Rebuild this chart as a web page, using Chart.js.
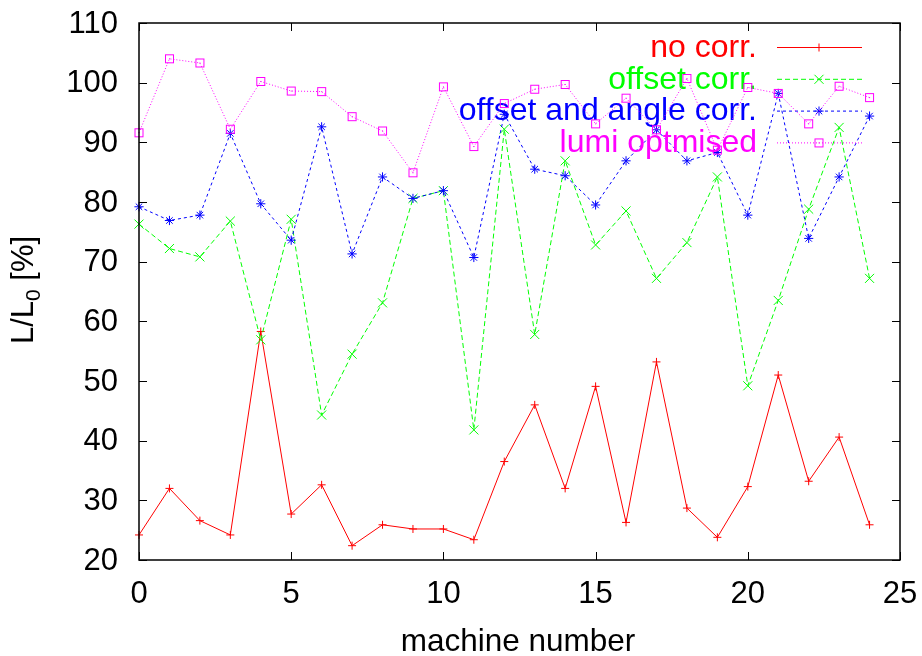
<!DOCTYPE html>
<html>
<head>
<meta charset="utf-8">
<script src="https://cdn.jsdelivr.net/npm/chart.js@4"></script>
<style>
  html, body { margin: 0; padding: 0; background: #fff; }
  canvas { display: block; }
</style>
</head>
<body>
<canvas id="chart" width="922" height="656"></canvas>
<script>
/* --- datos ---------------------------------------------------------------- */
const machines = [0, 1, 2, 3, 4, 5, 6, 7, 8, 9, 10, 11, 12, 13, 14, 15, 16, 17, 18, 19, 20, 21, 22, 23, 24];

const noCorr = [24.2, 32.0, 26.6, 24.2, 58.3, 27.7, 32.6, 22.4, 25.9, 25.2, 25.2, 23.4, 36.5,
    46.0, 32.0, 49.1, 26.3, 53.2, 28.7, 23.8, 32.3, 51.0, 33.2, 40.6, 25.9];

const offsetCorr = [76.3, 72.2, 70.8, 76.8, 56.9, 77.1, 44.3, 54.5, 63.1, 80.6, 81.9, 41.8, 92.2,
    57.8, 86.9, 72.8, 78.5, 67.2, 73.2, 84.2, 49.2, 63.5, 78.8, 92.5, 67.2];

const offsetAngleCorr = [79.2, 76.9, 77.8, 91.5, 79.7, 73.6, 92.6, 71.3, 84.2, 80.6, 81.9, 70.7, 94.7,
    85.5, 84.4, 79.5, 86.9, 92.1, 86.9, 88.3, 77.8, 98.2, 73.9, 84.2, 94.4];

const lumiOpt = [91.6, 104.0, 103.3, 92.2, 100.2, 98.6, 98.5, 94.3, 91.9, 84.9, 99.3, 89.3, 96.5,
    98.9, 99.7, 93.1, 97.4, 92.1, 100.7, 88.7, 99.2, 98.2, 93.1, 99.4, 97.5];

const legendLabels = ['no corr.', 'offset corr.', 'offset and angle corr.', 'lumi optmised'];
const xTicks = [0, 5, 10, 15, 20, 25];
const yTicks = [20, 30, 40, 50, 60, 70, 80, 90, 100, 110];

/* --- helpers -------------------------------------------------------------- */
const FONT = '"Liberation Sans", Arial, sans-serif';
const colores = ['#ff0000', '#00ff00', '#0000ff', '#ff00ff'];
const dashes = [[], [5, 3], [3, 3], [1, 2]];

function toPoints(valores) {
    return machines.map((m, i) => ({ x: m, y: valores[i] }));
}

/* cuadro con punto central (estilo gnuplot) */
function boxPoint(color) {
    const c = document.createElement('canvas');
    c.width = 11;
    c.height = 11;
    const g = c.getContext('2d');
    g.strokeStyle = color;
    g.lineWidth = 1;
    g.strokeRect(1.5, 1.5, 8, 8);
    g.fillStyle = color;
    g.fillRect(5, 5, 1, 1);
    return c;
}

const pointStyles = ['cross', 'crossRot', 'star', boxPoint(colores[3])];
const pointRadius = [4, 6.4, 4.6, 5];

function drawKeyEntry(ctx, i) {
    const y = 47 + i * 31.8;
    ctx.save();
    ctx.font = '32px ' + FONT;
    ctx.fillStyle = colores[i];
    ctx.textAlign = 'right';
    ctx.textBaseline = 'middle';
    ctx.fillText(legendLabels[i], 757, y + 1);

    ctx.strokeStyle = colores[i];
    ctx.lineWidth = 1;
    ctx.setLineDash(dashes[i]);
    ctx.beginPath();
    ctx.moveTo(777, y + 0.5);
    ctx.lineTo(862, y + 0.5);
    ctx.stroke();
    ctx.setLineDash([]);
    const ps = pointStyles[i];
    if (typeof ps === 'string') {
        Chart.helpers.drawPoint(ctx, { pointStyle: ps, radius: pointRadius[i], rotation: 0, borderWidth: 1 }, 819, y + 0.5);
    } else {
        ctx.drawImage(ps, 819 - 5.5, y - 5);
    }
    ctx.restore();
}

/* marco, ticks interiores, etiquetas, leyenda y titulos */
const gnuplotPlugin = {
    id: 'gnuplot',
    beforeDatasetDraw(chart, args) {
        drawKeyEntry(chart.ctx, args.index);
    },
    afterDraw(chart) {
        const { ctx, chartArea: a } = chart;
        const xs = chart.scales.x;
        const ys = chart.scales.y;
        ctx.save();
        ctx.strokeStyle = '#000';
        ctx.lineWidth = 1.5;
        ctx.strokeRect(a.left, a.top, a.right - a.left, a.bottom - a.top);

        ctx.lineWidth = 1;
        ctx.beginPath();
        xTicks.forEach(v => {
            const px = Math.round(xs.getPixelForValue(v)) + 0.5;
            ctx.moveTo(px, a.bottom); ctx.lineTo(px, a.bottom - 8);
            ctx.moveTo(px, a.top); ctx.lineTo(px, a.top + 8);
        });
        yTicks.forEach(v => {
            const py = Math.round(ys.getPixelForValue(v)) + 0.5;
            ctx.moveTo(a.left, py); ctx.lineTo(a.left + 8, py);
            ctx.moveTo(a.right, py); ctx.lineTo(a.right - 8, py);
        });
        ctx.stroke();

        ctx.fillStyle = '#000';
        ctx.font = '31px ' + FONT;
        ctx.textAlign = 'center';
        ctx.textBaseline = 'alphabetic';
        xTicks.forEach(v => ctx.fillText(String(v), xs.getPixelForValue(v), 603));
        ctx.textAlign = 'right';
        ctx.textBaseline = 'middle';
        yTicks.forEach(v => ctx.fillText(String(v), 118, ys.getPixelForValue(v) + 1));

        ctx.font = '31.5px ' + FONT;
        ctx.textAlign = 'center';
        ctx.textBaseline = 'alphabetic';
        ctx.fillText('machine number', 518, 651);

        /* L/L0 [%] con subindice */
        ctx.translate(33, 290);
        ctx.rotate(-Math.PI / 2);
        ctx.textAlign = 'left';
        const p1 = 'L/L', p3 = ' [%]';
        ctx.font = '31px ' + FONT;
        const w1 = ctx.measureText(p1).width;
        const w3 = ctx.measureText(p3).width;
        ctx.font = '21px ' + FONT;
        const w2 = ctx.measureText('0').width;
        const x0 = -(w1 + w2 + w3) / 2;
        ctx.font = '31px ' + FONT;
        ctx.fillText(p1, x0, 0);
        ctx.font = '21px ' + FONT;
        ctx.fillText('0', x0 + w1, 7);
        ctx.font = '31px ' + FONT;
        ctx.fillText(p3, x0 + w1 + w2, 0);
        ctx.restore();
    }
};

const series = [noCorr, offsetCorr, offsetAngleCorr, lumiOpt];

new Chart(document.getElementById('chart'), {
    type: 'line',
    data: {
        datasets: series.map((s, i) => ({
            label: legendLabels[i],
            data: toPoints(s),
            borderColor: colores[i],
            backgroundColor: colores[i],
            borderWidth: 1,
            borderDash: dashes[i],
            pointStyle: pointStyles[i],
            pointRadius: pointRadius[i],
            pointBorderWidth: 1,
            pointBorderColor: colores[i],
            pointBackgroundColor: 'transparent',
            fill: false,
            tension: 0,
            clip: false,
            order: 4 - i
        }))
    },
    options: {
        responsive: false,
        animation: false,
        devicePixelRatio: 1,
        layout: { padding: { left: 0, right: 22, top: 23, bottom: 0 } },
        plugins: {
            legend: { display: false },
            tooltip: { enabled: false }
        },
        scales: {
            x: {
                type: 'linear',
                min: 0,
                max: 25,
                afterFit: s => { s.height = 96; },
                afterBuildTicks: s => { s.ticks = xTicks.map(v => ({ value: v })); },
                grid: { display: false, drawTicks: false },
                border: { display: false },
                ticks: { display: false }
            },
            y: {
                type: 'linear',
                min: 20,
                max: 110,
                afterFit: s => { s.width = 139; },
                afterBuildTicks: s => { s.ticks = yTicks.map(v => ({ value: v })); },
                grid: { display: false, drawTicks: false },
                border: { display: false },
                ticks: { display: false }
            }
        }
    },
    plugins: [gnuplotPlugin]
});
</script>
</body>
</html>
